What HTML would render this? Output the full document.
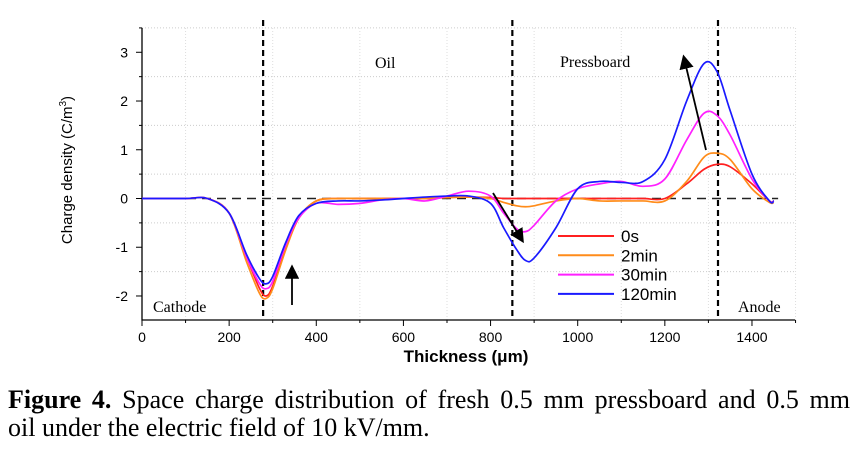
<!DOCTYPE html>
<html><head><meta charset="utf-8"><style>
body{margin:0;background:#fff;width:855px;height:471px;overflow:hidden;position:relative}
svg{display:block}
.cap{position:absolute;left:8px;top:386px;font-family:"Liberation Serif",serif;font-size:26px;line-height:28px;color:#000;width:842px;white-space:nowrap}
.l1{display:block;text-align:justify;text-align-last:justify}
</style></head><body>
<svg id="chart" width="855" height="380" xmlns="http://www.w3.org/2000/svg" font-family="Liberation Sans, sans-serif"></svg>
<div class="cap"><span class="l1" style="white-space:normal"><b>Figure 4.</b> Space charge distribution of fresh 0.5 mm pressboard and 0.5 mm</span>oil under the electric field of 10 kV/mm.</div>
<script>
const xs=[0,100,150,200,240,270,285,300,330,360,400,450,500,550,600,650,700,750,800,830,860,880,900,950,1000,1050,1100,1150,1200,1250,1290,1320,1350,1400,1440,1450];
const s0=[0,0,0,-0.3,-1.2,-1.85,-2.0,-1.8,-1.0,-0.4,-0.05,0,0,0,0,0,0.02,0.03,0.02,0,0,0,0,0,0,0,0,0,0,0.3,0.6,0.7,0.65,0.3,-0.05,-0.05];
const s2=[0,0,0,-0.3,-1.3,-1.95,-2.05,-1.85,-1.05,-0.4,-0.05,0,0,0,0,0,0.02,0.03,0,-0.08,-0.15,-0.17,-0.15,-0.05,0,-0.05,-0.05,-0.05,-0.05,0.35,0.85,0.93,0.8,0.2,-0.08,-0.08];
const s30=[0,0,0,-0.3,-1.2,-1.75,-1.85,-1.7,-0.95,-0.4,-0.1,-0.12,-0.1,-0.03,0,-0.05,0.05,0.15,0.05,-0.3,-0.62,-0.68,-0.55,-0.05,0.2,0.3,0.35,0.25,0.4,1.2,1.75,1.7,1.3,0.4,-0.05,-0.05];
const s120=[0,0,0,-0.3,-1.15,-1.65,-1.75,-1.6,-0.9,-0.35,-0.1,-0.05,-0.05,-0.03,0,0.03,0.05,0.05,-0.1,-0.6,-1.05,-1.27,-1.22,-0.6,0.2,0.35,0.33,0.35,0.8,2.0,2.77,2.6,1.8,0.5,-0.05,-0.05];
const seriesNames=["0s","2min","30min","120min"];
const seriesColors=["#ff2020","#ff8c1a","#ff20ff","#1a1aff"];
const xTicks=[0,200,400,600,800,1000,1200,1400];
const yTicks=[-2,-1,0,1,2,3];
const vlines=[278,850,1322];

const svg=document.getElementById('chart');
const NS='http://www.w3.org/2000/svg';
const X=v=>142+v*0.4357;
const Y=v=>198.5-v*48.74;
function mk(t,a,p){const e=document.createElementNS(NS,t);for(const k in a)e.setAttribute(k,a[k]);(p||svg).appendChild(e);return e;}
for(let g=-1.5;g<=3.5;g+=1){const l=mk('line',{x1:142,x2:795,y1:Y(g),y2:Y(g),stroke:'#ccc','stroke-dasharray':'1,2','stroke-width':1});

}
for(let g=100;g<=1500;g+=200){const l=mk('line',{x1:X(g),x2:X(g),y1:28,y2:320,stroke:'#ddd','stroke-dasharray':'1,2','stroke-width':1});

}
const ax=mk('path',{d:'M142,28 V320 H795',fill:'none',stroke:'#000','stroke-width':1.3});


yTicks.forEach(t=>{mk('line',{x1:136,x2:142,y1:Y(t),y2:Y(t),stroke:'#000'});mk('line',{x1:139,x2:142,y1:Y(t+0.5),y2:Y(t+0.5),stroke:'#000'});
const tx=mk('text',{x:128,y:Y(t)+5,'text-anchor':'end','font-size':14});tx.textContent=t;

});
xTicks.forEach(t=>{mk('line',{x1:X(t),x2:X(t),y1:320,y2:326,stroke:'#000'});mk('line',{x1:X(t+100),x2:X(t+100),y1:320,y2:323,stroke:'#000'});
const tx=mk('text',{x:X(t),y:342,'text-anchor':'middle','font-size':14});tx.textContent=t;

});
const z=mk('line',{x1:X(0),x2:X(1460),y1:Y(0),y2:Y(0),stroke:'#222','stroke-width':1.5,'stroke-dasharray':'9,6'});


vlines.forEach(v=>{const l=mk('line',{x1:X(v),x2:X(v),y1:20,y2:320,stroke:'#000','stroke-width':2.2,'stroke-dasharray':'6,4'});

});
function smooth(xv,yv){let p=xv.map((x,i)=>[X(x),Y(yv[i])]);let d='M'+p[0][0]+','+p[0][1];
for(let i=0;i<p.length-1;i++){const p0=p[Math.max(0,i-1)],p1=p[i],p2=p[i+1],p3=p[Math.min(p.length-1,i+2)];
d+=` C${p1[0]+(p2[0]-p0[0])/6},${p1[1]+(p2[1]-p0[1])/6} ${p2[0]-(p3[0]-p1[0])/6},${p2[1]-(p3[1]-p1[1])/6} ${p2[0]},${p2[1]}`;}return d;}
[s0,s2,s30,s120].forEach((s,i)=>{const p=mk('path',{d:smooth(xs,s),fill:'none',stroke:seriesColors[i],'stroke-width':1.7});


const ly=236+i*19.3;
const ll=mk('line',{x1:558,x2:614,y1:ly,y2:ly,stroke:seriesColors[i],'stroke-width':2});


const lt=mk('text',{x:621,y:ly+6,'font-size':17});lt.textContent=seriesNames[i];

});
mk('defs',{}).innerHTML='<marker id="ah" markerWidth="8" markerHeight="8" refX="6" refY="4" orient="auto"><path d="M0,0 L8,4 L0,8 z" fill="#000"/></marker>';
[[292,305,292,268],[493,193,522,240],[706,150,684,58]].forEach(a=>{const l=mk('line',{x1:a[0],y1:a[1],x2:a[2],y2:a[3],stroke:'#000','stroke-width':1.8,'marker-end':'url(#ah)'});

});
[['Oil',375,68,'region-label-oil'],['Pressboard',560,67,'region-label-pressboard'],['Cathode',153,312,'cathode-label'],['Anode',738,312,'anode-label']].forEach(t=>{
const e=mk('text',{x:t[1],y:t[2],'font-size':16,'font-family':'Liberation Serif, serif'});e.textContent=t[0];

});
const xt=mk('text',{x:466,y:362,'text-anchor':'middle','font-size':17,'font-weight':'bold'});xt.textContent='Thickness (μm)';


const yt=mk('text',{x:0,y:0,'text-anchor':'middle','font-size':15,transform:'translate(72,170) rotate(-90)'});
yt.innerHTML='Charge density (C/m<tspan dy="-6" font-size="10">3</tspan><tspan dy="6">)</tspan>';


</script>
</body></html>
